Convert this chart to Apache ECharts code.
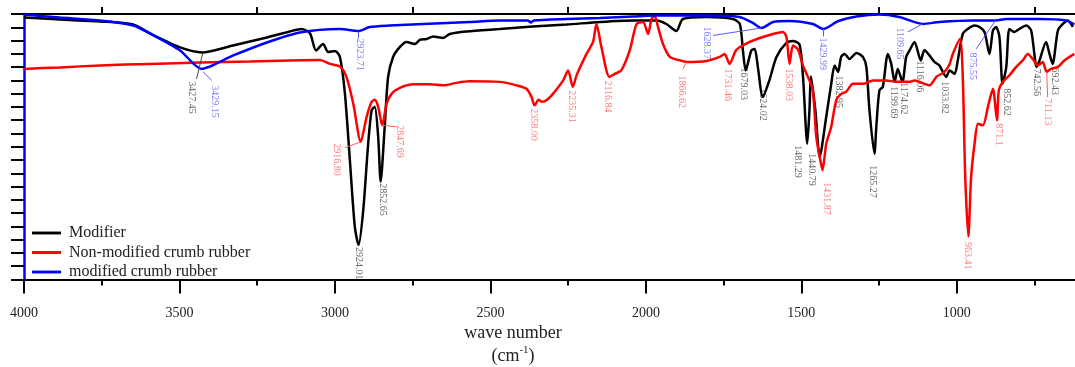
<!DOCTYPE html>
<html>
<head>
<meta charset="utf-8">
<script src="https://cdn.jsdelivr.net/npm/echarts@6/dist/echarts.min.js"></script>
<style>
html,body{margin:0;padding:0;background:#fff;}
#chart{width:1075px;height:367px;}
</style>
</head>
<body>
<div id="chart"></div>
<script>
// ---------------- data ----------------
const seriesNames = ['Modifier', 'Non-modified crumb rubber', 'modified crumb rubber'];
const xTickLabels = [4000, 3500, 3000, 2500, 2000, 1500, 1000];
const xMinorTicks = [3750, 3250, 2750, 2250, 1750, 1250, 750];

const modifierWave = [4000,3884,3755,3649,3595,3498,3427,3328,3219,3145,
 3107,3080,3061,3038,3022,3000,2984,2968,2952,2936,
 2924,2909,2893,2882,2872,2861,2853,2840,2829,2813,
 2791,2770,2743,2727,2705,2684,2652,2631,2577,2470,
 2364,2255,2148,2042,1966,1934,1902,1881,1805,1720,
 1698,1688,1679,1661,1650,1640,1624,1603,1580,1548,
 1527,1506,1495,1481,1474,1469,1455,1441,1420,1404,
 1393,1382,1372,1361,1345,1323,1302,1291,1281,1265,
 1259,1249,1238,1227,1222,1211,1200,1190,1175,1163,
 1152,1136,1116,1104,1088,1072,1056,1034,1023,1007,
 997,981,965,943,927,911,895,884,874,863,
 853,841,831,815,799,777,761,743,734,713,
 702,692,675,659,643,627];
const modifierValue = [262.5,260.5,258.5,255.5,246.5,232.5,227.5,234.5,242.5,248.5,
 251,246.5,229.5,236,228,229,223,186.5,119.5,52.5,
 34.5,69.5,136.5,169.5,173,143,98,153,203,223,
 233,238,236,240,241,243.5,242,246,248.5,251,
 253.5,255.5,258,259.5,259.5,256,249,261,263,261,
 256,229.5,209.5,229.5,231,213,183,199.5,223,237,
 239,235.5,204.5,136,169.5,203.5,169.5,123,163,196,
 214.5,208,223,226,221,227,223,213,169.5,126,
 153,189.5,193,219.5,226,216,198,211,198,223,
 229.5,238,219.5,230,224.5,218,214.5,203,209.5,206,
 219.5,246,251,254.5,253,248,226,249.5,253,243,
 196,213,251,248,251,254.5,249.5,213,219.5,238,
 226,216,249.5,256,259.5,253];

const rubberWave = [4000,3884,3755,3595,3434,3273,3145,3048,3016,2984,
 2963,2941,2917,2898,2882,2872,2861,2848,2834,2818,
 2791,2748,2695,2652,2609,2566,2470,2416,2384,2368,
 2358,2345,2334,2320,2299,2266,2250,2235,2223,2191,
 2170,2159,2143,2117,2100,2079,2052,2030,2009,1993,
 1982,1972,1961,1945,1923,1891,1867,1805,1763,1747,
 1731,1709,1666,1624,1591,1559,1548,1538,1527,1511,
 1495,1474,1463,1452,1441,1432,1420,1404,1388,1372,
 1356,1334,1302,1270,1227,1195,1152,1136,1120,1088,
 1066,1040,1023,1013,990,981,973,963,954,943,
 932,916,900,884,871,865,852,831,809,788,
 772,756,740,724,711,697,675,654,622];
const rubberValue = [211,212.5,214.5,216,217.5,218.5,219.5,220,216,213.5,
 203,176,138,163,178,180,173,154.5,176,186,
 192,195.5,195.5,194.5,197,198.5,198,194.5,191,183,
 174.5,180,178,179.5,186,199.5,209.5,193,204.5,226,
 238,256,233,203,206,209.5,229.5,256,258,246,
 261,264.5,253,236,223,219.5,218,219,223,226,
 216,230,238,243,246,248,243,216,234.5,230.5,
 214.5,199.5,189.5,143,123,109.5,136,153,179.5,186,
 188,196,196,199.5,199.5,198,198,199.5,198,194.5,
 203,208,216,226,241,203,103,43,103,136,
 156,154.5,173,191,159.5,189.5,198,204.5,213,219.5,
 226,221,214.5,218,208,211,213,219.5,226];

const modRubberWave = [4000,3884,3755,3649,3595,3498,3429,3327,3219,3113,
 2984,2924,2888,2824,2716,2566,2470,2380,2370,2361,
 2255,2148,2042,1978,1806,1699,1656,1628,1591,1538,
 1463,1430,1381,1323,1249,1185,1110,1056,949,876,
 841,734,649,622];
const modRubberValue = [265.5,262.5,259.5,254.5,246.5,229.5,211,224.5,237.5,247.5,
 251,249,253,254.5,256,258,259.5,259.5,257.5,259.5,
 261,262,263.5,264.5,264.5,263,257,252,258,259,
 256,251,259,263.5,265.5,263,256,258,259.5,259.5,
 261,261,259.5,255.5];

// peak annotations (label text, label anchor wavenumber, label anchor value)
const modifierPeakText = ['3427.45','2924.01','2852.65','1679.03','1624.02','1481.29','1440.79','1382.95','1265.27','1199.69','1174.62','1116.06','1033.82','852.62','742.56','692.43'];
const modifierPeakWave = [3461,2923,2848,1686,1624,1511,1468,1380,1270,1203,1171,1120,1040,841,745,686];
const modifierPeakValue = [198.5,32.5,96.5,212.5,191.5,134.5,126.5,204.5,114.5,193.5,197.5,219.5,198.5,191.5,211.5,212.5];
const modifierLeaders = [[3425,227,3445,201]];

const rubberPeakText = ['2916.80','2847.69','2358.00','2235.31','2116.84','1866.62','1731.46','1538.03','1431.87','963.41','871.1','711.13'];
const rubberPeakWave = [2995,2791,2360,2239,2122,1886,1736,1541,1420,965,865,708];
const rubberPeakValue = [136.5,154.5,171.5,189.5,199.5,204.5,211.5,211.5,97.5,37.5,156.5,181.5];
const rubberLeaders = [[2917,138,2967,132],[2848,154.5,2802,153],[1870,218,1881,210.5],[711,208,708,182.5]];

const modRubberPeakText = ['3429.15','2923.71','1628.37','1429.99','1109.65','875.55'];
const modRubberPeakWave = [3386,2920,1805,1431,1184,949];
const modRubberPeakValue = [194.5,241.5,253.5,242.5,252.5,227.5];
const modRubberLeaders = [[3424,208,3396,199.5],[2925,248.5,2925,241.5],[1628,252,1784,244.5],[1431,251,1431,243.5],[1110,256,1158,248],[876,259.5,938,231]];

// ---------------- build ----------------
const SERIF = '"Liberation Serif","DejaVu Serif",serif';
const lineColors = ['#000000', '#ff0000', '#0000ff'];
const labelColors = ['#444444', '#ff5a5a', '#5a5aff'];
const X_MIN = 620, X_MAX = 4000;

function pairs(ws, vs) { return ws.map((w, i) => [w, vs[i]]); }
function triples(ws, vs, ts) { return ws.map((w, i) => [w, vs[i], ts[i]]); }

function lineSeries(name, ws, vs, color) {
  return {
    name: name, type: 'line', xAxisIndex: 0, yAxisIndex: 0,
    data: pairs(ws, vs), symbol: 'none', showSymbol: false,
    smooth: 0.25,
    lineStyle: { color: color, width: 2.5 }, itemStyle: { color: color },
    z: 3
  };
}
function labelSeries(ws, vs, ts, leaders, color) {
  return {
    type: 'scatter', xAxisIndex: 0, yAxisIndex: 0, silent: true,
    symbolSize: 0, data: triples(ws, vs, ts), z: 2,
    label: {
      show: true, formatter: p => p.data[2], rotate: -90,
      position: [0, 0], align: 'left', verticalAlign: 'middle',
      fontFamily: SERIF, fontSize: 10, color: color
    },
    markLine: {
      silent: true, symbol: ['none', 'none'], animation: false,
      label: { show: false },
      lineStyle: { color: color, width: 1, type: 'solid' },
      data: leaders.map(l => [{ coord: [l[0], l[1]] }, { coord: [l[2], l[3]] }])
    }
  };
}

const chart = echarts.init(document.getElementById('chart'), null, { renderer: 'canvas' });
const option = {
  animation: false,
  backgroundColor: '#ffffff',
  grid: { left: 24, right: 0, top: 14, bottom: 87.5, containLabel: false },
  legend: {
    data: seriesNames, orient: 'vertical', left: 27, top: 220,
    itemWidth: 29, itemHeight: 14, itemGap: 3.5,
    textStyle: { fontFamily: SERIF, fontSize: 16, color: '#222', lineHeight: 14, padding: [0, 0, 0, 3] },
    icon: 'path://M0,0L10,0L10,1L0,1Z'
  },
  xAxis: [
    {
      type: 'value', position: 'bottom', inverse: true, min: X_MIN, max: X_MAX,
      axisLine: { lineStyle: { color: '#000', width: 2 } },
      axisTick: { length: 14, customValues: xTickLabels, lineStyle: { color: '#000', width: 2 } },
      axisLabel: {
        customValues: xTickLabels, formatter: v => String(v),
        margin: 27, fontFamily: SERIF, fontSize: 14, color: '#222'
      },
      splitLine: { show: false }
    },
    {
      type: 'value', position: 'bottom', inverse: true, min: X_MIN, max: X_MAX,
      axisLine: { show: false },
      axisTick: { length: 6, customValues: xMinorTicks, lineStyle: { color: '#000', width: 2 } },
      axisLabel: { show: false },
      splitLine: { show: false }
    },
    {
      type: 'value', position: 'top', inverse: true, min: X_MIN, max: X_MAX,
      axisLine: { lineStyle: { color: '#000', width: 2 } },
      axisTick: { length: 7, customValues: xMinorTicks, lineStyle: { color: '#000', width: 2 } },
      axisLabel: { show: false },
      splitLine: { show: false }
    }
  ],
  yAxis: {
    type: 'value', min: 0, max: 266, interval: 13.3,
    axisLine: { show: true, lineStyle: { color: '#0000ff', width: 2.5 } },
    axisTick: { show: true, length: 13, lineStyle: { color: '#000', width: 2 } },
    axisLabel: { show: false },
    splitLine: { show: false }
  },
  graphic: [
    {
      type: 'text', x: 513, y: 333,
      style: { text: 'wave number', font: '18px ' + SERIF, fill: '#222', align: 'center', verticalAlign: 'middle' }
    },
    {
      type: 'text', x: 513, y: 356,
      style: {
        text: '{n|(cm}{s|-1}{n|)}', fill: '#222', align: 'center', verticalAlign: 'middle',
        rich: {
          n: { fontFamily: SERIF, fontSize: 18, lineHeight: 22, fill: '#222' },
          s: { fontFamily: SERIF, fontSize: 11, lineHeight: 11, verticalAlign: 'top', fill: '#222' }
        }
      }
    }
  ],
  series: [
    lineSeries(seriesNames[0], modifierWave, modifierValue, lineColors[0]),
    lineSeries(seriesNames[1], rubberWave, rubberValue, lineColors[1]),
    lineSeries(seriesNames[2], modRubberWave, modRubberValue, lineColors[2]),
    labelSeries(modifierPeakWave, modifierPeakValue, modifierPeakText, modifierLeaders, labelColors[0]),
    labelSeries(rubberPeakWave, rubberPeakValue, rubberPeakText, rubberLeaders, labelColors[1]),
    labelSeries(modRubberPeakWave, modRubberPeakValue, modRubberPeakText, modRubberLeaders, labelColors[2])
  ]
};
chart.setOption(option);
</script>
</body>
</html>
